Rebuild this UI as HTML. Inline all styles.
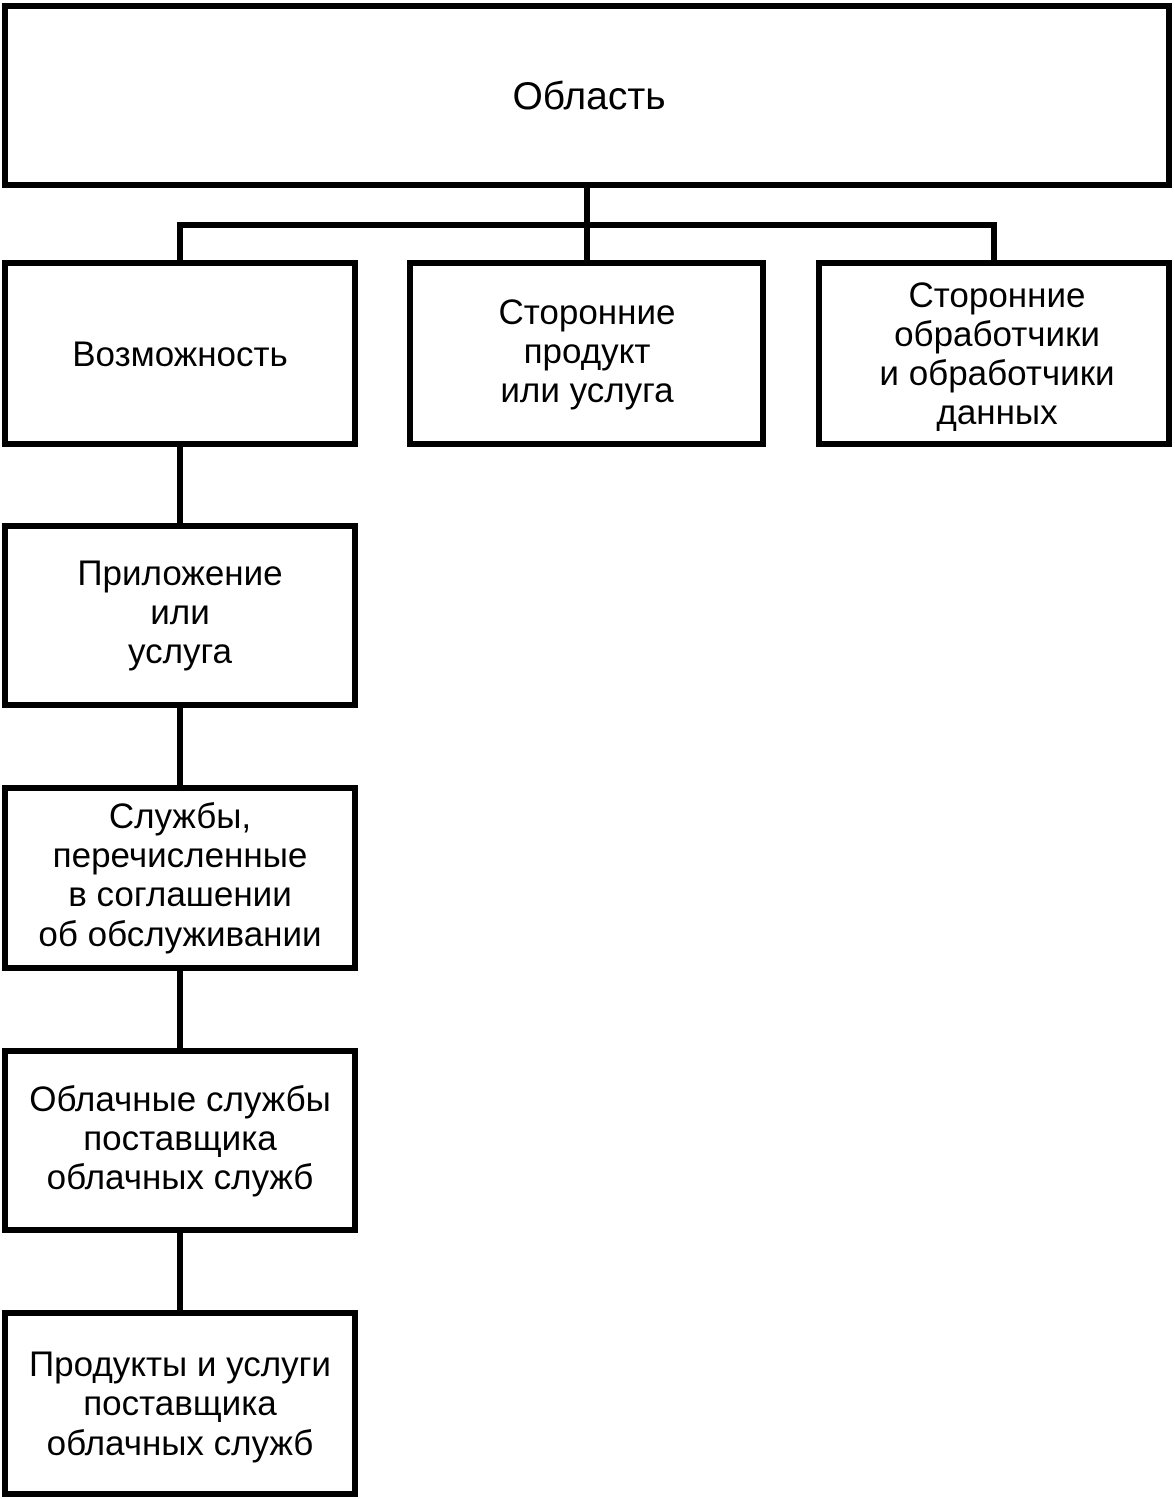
<!DOCTYPE html>
<html><head><meta charset="utf-8"><style>
html,body{margin:0;padding:0;background:#fff;}
svg{display:block;}
text{font-family:"Liberation Sans",Arial,sans-serif;font-size:35px;fill:#000;text-anchor:middle;}
</style></head><body>
<svg width="1175" height="1499" viewBox="0 0 1175 1499" xmlns="http://www.w3.org/2000/svg">
<g fill="none" stroke="#000" stroke-width="6" stroke-linecap="square" stroke-linejoin="miter">
<rect x="5" y="6" width="1164" height="179"/>
<rect x="5" y="263" width="350" height="181"/>
<rect x="410" y="263" width="353" height="181"/>
<rect x="819" y="263" width="350" height="181"/>
<rect x="5" y="526" width="350" height="179"/>
<rect x="5" y="788" width="350" height="180"/>
<rect x="5" y="1051" width="350" height="179"/>
<rect x="5" y="1313" width="350" height="181"/>
<line x1="587" y1="188" x2="587" y2="260"/>
<polyline points="180,260 180,225 994,225 994,260"/>
<line x1="180" y1="447" x2="180" y2="523"/>
<line x1="180" y1="708" x2="180" y2="785"/>
<line x1="180" y1="971" x2="180" y2="1048"/>
<line x1="180" y1="1233" x2="180" y2="1310"/>
</g>
<text x="589" y="109" style="font-size:39px">Область</text>
<text x="180" y="366">Возможность</text>
<text x="587" y="324">Сторонние</text>
<text x="587" y="363">продукт</text>
<text x="587" y="402">или услуга</text>
<text x="997" y="307">Сторонние</text>
<text x="997" y="346">обработчики</text>
<text x="997" y="385">и обработчики</text>
<text x="997" y="424">данных</text>
<text x="180" y="585">Приложение</text>
<text x="180" y="624">или</text>
<text x="180" y="663">услуга</text>
<text x="180" y="828">Службы,</text>
<text x="180" y="867">перечисленные</text>
<text x="180" y="906">в соглашении</text>
<text x="180" y="946">об обслуживании</text>
<text x="180" y="1111">Облачные службы</text>
<text x="180" y="1150">поставщика</text>
<text x="180" y="1189">облачных служб</text>
<text x="180" y="1376">Продукты и услуги</text>
<text x="180" y="1415">поставщика</text>
<text x="180" y="1455">облачных служб</text>
</svg>
</body></html>
